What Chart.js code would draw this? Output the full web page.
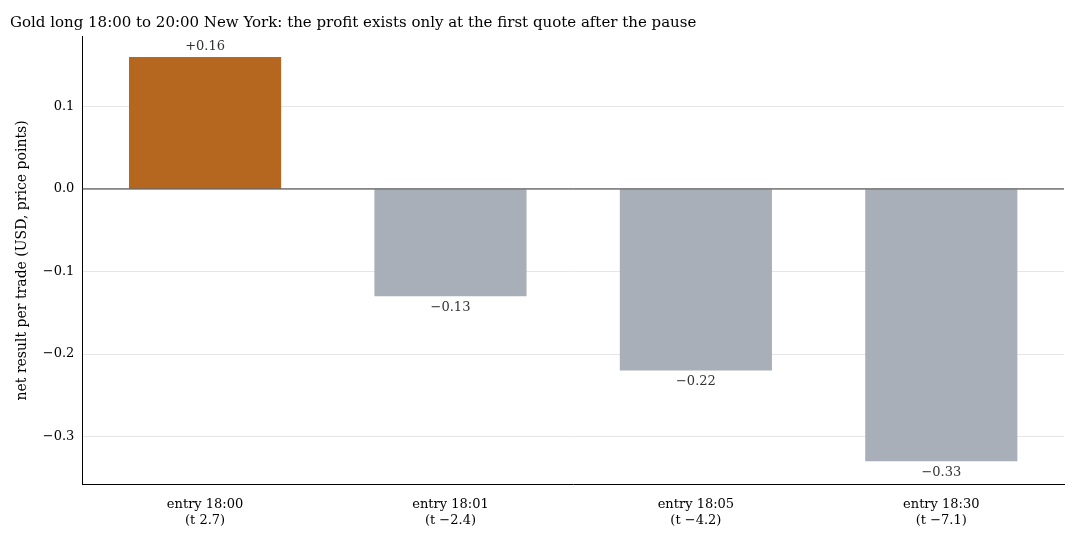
<!DOCTYPE html>
<html>
<head>
<meta charset="utf-8">
<script src="https://cdn.jsdelivr.net/npm/chart.js@4"></script>
<style>
  html, body { margin: 0; padding: 0; background: #fff; }
  #wrap { width: 1080px; height: 540px; }
</style>
</head>
<body>
<div id="wrap"><canvas id="c" width="1080" height="540"></canvas></div>
<script>
// data
const entries = [['entry 18:00', '(t 2.7)'], ['entry 18:01', '(t \u22122.4)'], ['entry 18:05', '(t \u22124.2)'], ['entry 18:30', '(t \u22127.1)']];
const netResult = [0.16, -0.13, -0.22, -0.33];
const valueLabels = ['+0.16', '\u22120.13', '\u22120.22', '\u22120.33'];
const barColors = ['#B5661F', '#A8AFB8', '#A8AFB8', '#A8AFB8'];

const serif = "'DejaVu Serif', serif";

// value labels above/below bars
const barLabels = {
  id: 'barLabels',
  afterDatasetsDraw(chart) {
    const ctx = chart.ctx;
    const meta = chart.getDatasetMeta(0);
    ctx.save();
    ctx.font = '13px ' + serif;
    ctx.fillStyle = '#333';
    ctx.textAlign = 'center';
    meta.data.forEach((bar, i) => {
      const v = netResult[i];
      if (v >= 0) {
        ctx.textBaseline = 'bottom';
        ctx.fillText(valueLabels[i], bar.x, bar.y - 4);
      } else {
        ctx.textBaseline = 'top';
        ctx.fillText(valueLabels[i], bar.x, bar.y + 5);
      }
    });
    ctx.restore();
  }
};

// zero line
const zeroLine = {
  id: 'zeroLine',
  afterDatasetsDraw(chart) {
    const { ctx, chartArea, scales } = chart;
    const y = scales.y.getPixelForValue(0);
    ctx.save();
    ctx.strokeStyle = '#333';
    ctx.lineWidth = 1;
    ctx.beginPath();
    ctx.moveTo(chartArea.left, y);
    ctx.lineTo(chartArea.right, y);
    ctx.stroke();
    ctx.restore();
  }
};

new Chart(document.getElementById('c'), {
  type: 'bar',
  data: {
    labels: entries,
    datasets: [{
      data: netResult,
      backgroundColor: barColors,
      barPercentage: 0.62,
      categoryPercentage: 1.0
    }]
  },
  options: {
    responsive: false,
    animation: false,
    layout: { padding: { left: 10, right: 16, top: 4, bottom: 8 } },
    plugins: {
      legend: { display: false },
      tooltip: { enabled: false },
      title: {
        display: true,
        text: 'Gold long 18:00 to 20:00 New York: the profit exists only at the first quote after the pause',
        align: 'start',
        color: '#000',
        font: { family: serif, size: 15, weight: 'normal' },
        padding: { top: 10, bottom: 4 }
      }
    },
    scales: {
      x: {
        grid: { display: false, drawTicks: true },
        border: { color: '#000' },
        ticks: { color: '#000', font: { family: serif, size: 13 }, padding: 4 }
      },
      y: {
        min: -0.3585,
        max: 0.1854,
        afterBuildTicks(scale) {
          scale.ticks = [-0.3, -0.2, -0.1, 0, 0.1].map(v => ({ value: v }));
        },
        grid: { color: '#e6e6e6', drawTicks: false },
        border: { color: '#000' },
        ticks: {
          color: '#000',
          padding: 8,
          font: { family: serif, size: 13 },
          callback: v => (v < 0 ? '\u2212' : '') + Math.abs(v).toFixed(1)
        },
        title: {
          display: true,
          text: 'net result per trade (USD, price points)',
          color: '#000',
          font: { family: serif, size: 14 }
        }
      }
    }
  },
  plugins: [zeroLine, barLabels]
});
</script>
</body>
</html>
